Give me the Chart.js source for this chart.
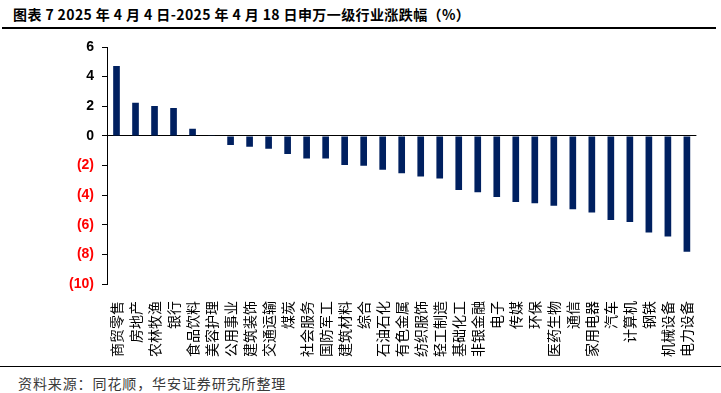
<!DOCTYPE html>
<html>
<head>
<meta charset="utf-8">
<script src="https://cdn.jsdelivr.net/npm/chart.js@4"></script>
<style>
  html, body { margin: 0; padding: 0; background: #fff; }
  #page { position: relative; width: 721px; height: 393px; overflow: hidden; }
  #title {
    position: absolute; left: 13px; top: 4px;
    font: bold 14px "Noto Sans CJK SC", sans-serif; color: #000; white-space: nowrap;
    letter-spacing: 0.4px;
  }
  #topLine { position: absolute; left: 2px; top: 27px; width: 714px; height: 2px; background: #000; }
  #bottomLine { position: absolute; left: 0; top: 366px; width: 721px; height: 1px; background: #000; }
  #source {
    position: absolute; left: 18px; top: 373px;
    font: 14px "Noto Sans CJK SC", sans-serif; color: #3a3a3a; letter-spacing: 0.9px; white-space: nowrap;
  }
  #wrap { position: absolute; left: 0; top: 30px; width: 721px; height: 336px; }
</style>
</head>
<body>
<div id="page">
  <div id="title">图表 7 2025 年 4 月 4 日-2025 年 4 月 18 日申万一级行业涨跌幅（%）</div>
  <div id="topLine"></div>
  <div id="wrap"><canvas id="chart"></canvas></div>
  <div id="bottomLine"></div>
  <div id="source">资料来源：同花顺，华安证券研究所整理</div>
</div>
<script>
const industries = ['商贸零售', '房地产', '农林牧渔', '银行', '食品饮料', '美容护理', '公用事业', '建筑装饰',
  '交通运输', '煤炭', '社会服务', '国防军工', '建筑材料', '综合', '石油石化', '有色金属', '纺织服饰',
  '轻工制造', '基础化工', '非银金融', '电子', '传媒', '环保', '医药生物', '通信', '家用电器', '汽车',
  '计算机', '钢铁', '机械设备', '电力设备'];
const changes = [4.71, 2.23, 2.01, 1.89, 0.48, 0.04, -0.61, -0.73, -0.87, -1.23, -1.52, -1.53, -1.97,
  -2.01, -2.29, -2.53, -2.74, -2.87, -3.66, -3.80, -4.12, -4.46, -4.55, -4.71, -4.95, -5.18, -5.68,
  -5.81, -6.53, -6.80, -7.82];
const yMin = -10;
const yMax = 6;
const yStep = 2;

const ctx = document.getElementById('chart').getContext('2d');

new Chart(ctx, {
  type: 'bar',
  data: {
    labels: industries,
    datasets: [{
      label: '涨跌幅',
      data: changes,
      backgroundColor: '#002060',
      borderWidth: 0,
      barPercentage: 0.35,
      categoryPercentage: 1
    }]
  },
  options: {
    responsive: true,
    maintainAspectRatio: false,
    animation: false,
    layout: { padding: { top: 17, right: 19, left: 0, bottom: 0 } },
    plugins: {
      legend: { display: false },
      tooltip: { enabled: false }
    },
    scales: {
      x: {
        grid: { display: false, drawTicks: false },
        border: { display: false },
        ticks: {
          autoSkip: false,
          maxRotation: 90,
          minRotation: 90,
          padding: 17,
          color: '#000',
          font: { family: '"Noto Sans CJK SC"', size: 14 }
        },
        afterFit(scale) { scale.height = 82; }
      },
      y: {
        min: yMin,
        max: yMax,
        border: { display: true, color: '#000', width: 1 },
        grid: {
          drawOnChartArea: true,
          tickLength: 5,
          tickColor: '#000',
          color: c => (c.tick && c.tick.value === 0) ? '#000' : 'rgba(0,0,0,0)',
          lineWidth: 1
        },
        ticks: {
          stepSize: yStep,
          padding: 8,
          font: { family: '"Liberation Sans", Arial', size: 14, weight: 'bold' },
          color: c => c.tick.value < 0 ? '#ff0000' : '#000',
          callback: v => v < 0 ? '(' + Math.abs(v) + ')' : String(v)
        },
        afterFit(scale) { scale.width = 107; }
      }
    }
  }
});
</script>
</body>
</html>
